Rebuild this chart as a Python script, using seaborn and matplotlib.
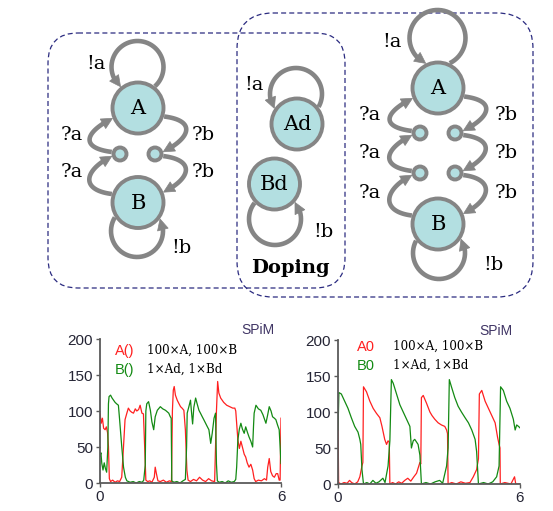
import numpy as np
import pandas as pd
import matplotlib
matplotlib.use("Agg")
import matplotlib.pyplot as plt
import seaborn as sns
from matplotlib.patches import Circle, FancyBboxPatch, Polygon

# ---------------- data ----------------
left_A = [(0.00,97),(0.04,83),(0.08,90),(0.12,76),(0.17,74),(0.21,78),(0.25,70),(0.28,51),(0.31,6),(0.35,2),
          (0.42,4),(0.50,1),(0.58,3),(0.65,2),(0.72,8),(0.78,51),(0.83,88),(0.89,97),(0.94,104),(1.00,100),
          (1.06,98),(1.11,97),(1.17,103),(1.22,100),(1.28,102),(1.33,108),(1.39,97),(1.44,96),(1.48,51),(1.52,4),
          (1.58,2),(1.65,3),(1.72,1),(1.80,8),(1.83,22),(1.87,13),(1.92,3),(2.00,2),(2.10,4),(2.20,1),
          (2.30,3),(2.37,2),(2.40,100),(2.43,129),(2.46,134),(2.50,122),(2.56,115),(2.62,110),(2.67,106),(2.72,104),
          (2.78,101),(2.83,74),(2.88,18),(2.92,4),(3.00,2),(3.10,5),(3.20,3),(3.30,8),(3.40,4),(3.50,2),
          (3.60,6),(3.70,3),(3.80,2),(3.86,100),(3.90,141),(3.94,125),(4.00,118),(4.10,112),(4.20,108),(4.30,106),
          (4.40,104),(4.47,104),(4.50,100),(4.53,83),(4.57,60),(4.62,48),(4.67,58),(4.72,50),(4.78,40),(4.83,36),
          (4.88,28),(4.94,22),(5.00,26),(5.06,18),(5.11,6),(5.16,2),(5.25,4),(5.35,3),(5.45,6),(5.52,4),
          (5.56,22),(5.61,34),(5.66,16),(5.72,10),(5.78,8),(5.84,13),(5.89,13),(5.94,4),(5.97,4),(6.00,90)]
left_B = [(0.00,37),(0.03,42),(0.06,27),(0.10,18),(0.14,28),(0.18,20),(0.22,15),(0.26,50),(0.28,110),(0.30,120),
          (0.35,122),(0.40,118),(0.45,115),(0.50,112),(0.55,110),(0.61,108),(0.65,88),(0.72,51),(0.78,22),(0.84,8),
          (0.89,3),(1.00,1),(1.10,2),(1.20,0),(1.30,2),(1.40,1),(1.45,4),(1.50,25),(1.52,100),(1.55,110),
          (1.61,113),(1.67,101),(1.72,85),(1.78,74),(1.83,92),(1.90,101),(2.00,106),(2.08,103),(2.17,101),(2.28,97),
          (2.33,92),(2.36,90),(2.38,3),(2.45,1),(2.55,2),(2.65,0),(2.75,3),(2.83,5),(2.87,50),(2.89,97),
          (2.94,105),(3.00,115),(3.03,100),(3.07,82),(3.11,105),(3.17,118),(3.22,110),(3.28,101),(3.33,97),(3.39,92),
          (3.44,88),(3.50,83),(3.56,78),(3.61,74),(3.67,55),(3.72,69),(3.78,90),(3.83,97),(3.86,27),(3.89,3),
          (3.95,1),(4.05,2),(4.15,0),(4.25,3),(4.35,1),(4.45,2),(4.50,5),(4.53,22),(4.57,60),(4.62,75),
          (4.67,83),(4.72,75),(4.78,69),(4.83,78),(4.89,70),(4.94,64),(5.00,58),(5.06,50),(5.09,80),(5.11,97),
          (5.17,108),(5.25,103),(5.33,101),(5.40,95),(5.50,83),(5.56,95),(5.61,106),(5.67,100),(5.72,92),(5.78,90),
          (5.83,88),(5.89,80),(5.94,74),(6.00,27)]
right_A = [(0.00,95),(0.02,2),(0.10,0),(0.20,2),(0.30,1),(0.38,5),(0.45,2),(0.55,0),(0.65,3),(0.72,10),
           (0.79,25),(0.82,30),(0.84,135),(0.94,128),(1.05,115),(1.16,105),(1.27,98),(1.38,92),(1.45,80),(1.54,62),
           (1.60,55),(1.65,60),(1.69,58),(1.71,0),(1.80,2),(1.90,0),(2.00,3),(2.10,1),(2.20,5),(2.30,8),
           (2.40,4),(2.50,10),(2.59,15),(2.70,30),(2.73,28),(2.75,120),(2.81,123),(2.92,112),(3.03,100),(3.10,95),
           (3.19,90),(3.30,85),(3.41,82),(3.52,80),(3.58,75),(3.61,70),(3.63,0),(3.75,2),(3.90,0),(4.05,3),
           (4.20,1),(4.35,2),(4.46,10),(4.57,20),(4.63,35),(4.66,125),(4.74,130),(4.85,115),(4.96,105),(5.07,95),
           (5.18,85),(5.26,65),(5.31,55),(5.34,50),(5.35,0),(5.50,2),(5.70,0),(5.82,10),(5.86,0),(6.00,0)]
right_B = [(0.00,75),(0.03,127),(0.11,125),(0.22,115),(0.33,105),(0.44,92),(0.55,80),(0.66,72),(0.72,62),(0.75,55),
           (0.79,20),(0.84,0),(0.95,2),(1.05,0),(1.15,5),(1.25,1),(1.35,3),(1.48,8),(1.55,2),(1.65,25),
           (1.71,60),(1.76,145),(1.82,140),(1.93,125),(2.04,110),(2.15,100),(2.26,90),(2.37,80),(2.42,50),(2.48,60),
           (2.53,62),(2.64,55),(2.70,40),(2.75,0),(2.90,2),(3.05,0),(3.20,3),(3.35,5),(3.45,1),(3.58,25),
           (3.63,50),(3.67,145),(3.74,135),(3.85,120),(3.96,108),(4.07,100),(4.19,92),(4.30,85),(4.41,75),(4.52,62),
           (4.57,45),(4.63,0),(4.80,2),(4.95,0),(5.10,3),(5.23,10),(5.31,25),(5.36,135),(5.45,130),(5.56,115),
           (5.67,105),(5.78,90),(5.84,75),(5.89,82),(5.95,80),(6.00,78)]

y_ticks = [0, 50, 100, 150, 200]
x_ticks = [0, 6]
legend_left = ["A()", "B()"]
legend_right = ["A0", "B0"]
legend_text = ["100\u00d7A, 100\u00d7B", "1\u00d7Ad, 1\u00d7Bd"]

# ---------------- style ----------------
GRAY = "#858585"
FILL = "#b3dfe1"
NAVY = "#2b2b80"
RED = "#ff2020"
GREEN = "#138a13"
SERIF = ["DejaVu Serif"]
SANS = ["Liberation Sans", "DejaVu Sans"]

fig = plt.figure(figsize=(5.53, 5.11), dpi=100)
ax0 = fig.add_axes([0, 0, 1, 1])
ax0.set_xlim(0, 553)
ax0.set_ylim(511, 0)
ax0.axis("off")

LW = 3.3


def pol(c, r, deg):
    a = np.deg2rad(deg)
    return np.array([c[0] + r * np.cos(a), c[1] + r * np.sin(a)])


def bez(p0, p1, p2, p3, n=80):
    t = np.linspace(0, 1, n)[:, None]
    p0, p1, p2, p3 = map(np.asarray, (p0, p1, p2, p3))
    return (1 - t) ** 3 * p0 + 3 * (1 - t) ** 2 * t * p1 + 3 * (1 - t) * t ** 2 * p2 + t ** 3 * p3


def arrow_path(pts, L=11.0, W=11.0):
    pts = np.asarray(pts, float)
    tip = pts[-1]
    d = np.sqrt(((pts - tip) ** 2).sum(1))
    idx = np.where(d >= L)[0][-1]
    u = tip - pts[idx]
    u = u / np.linalg.norm(u)
    base = tip - u * L
    nrm = np.array([-u[1], u[0]])
    line = np.vstack([pts[:idx + 1], base + u * 2])
    ax0.plot(line[:, 0], line[:, 1], color=GRAY, lw=LW, solid_capstyle="butt", zorder=2)
    tri = Polygon([tip, base + nrm * W / 2, base - nrm * W / 2], closed=True,
                  fc=GRAY, ec=GRAY, lw=0.5, zorder=4)
    ax0.add_patch(tri)


def loop(C, Rn, Lc, r, top=True, n=160):
    C = np.asarray(C, float); Lc = np.asarray(Lc, float)
    d = np.linalg.norm(C - Lc)
    a = (d ** 2 + r ** 2 - Rn ** 2) / (2 * d)
    h = np.sqrt(max(r ** 2 - a ** 2, 0))
    e = (C - Lc) / d
    perp = np.array([-e[1], e[0]])
    P = Lc + a * e
    i1, i2 = P + h * perp, P - h * perp
    right, left = (i1, i2) if i1[0] > i2[0] else (i2, i1)
    s, f = (right, left) if top else (left, right)
    ps = np.degrees(np.arctan2(s[1] - Lc[1], s[0] - Lc[0]))
    pe = np.degrees(np.arctan2(f[1] - Lc[1], f[0] - Lc[0]))
    while pe >= ps:
        pe -= 360
    if ps - pe < 180:
        pe -= 360
    ang = np.radians(np.linspace(ps, pe, n))
    pts = np.column_stack([Lc[0] + r * np.cos(ang), Lc[1] + r * np.sin(ang)])
    arrow_path(pts)


def node(c, label=None, big=True):
    r = 25.5 if big else 6.5
    ax0.add_patch(Circle(c, r, fc=FILL, ec=GRAY, lw=2.8, zorder=3))
    if label:
        ax0.text(c[0], c[1] + 1, label, ha="center", va="center", fontsize=15,
                 family=SERIF, color="black", zorder=5)


RB, RS = 27.5, 8.5


def edge_up(c_from, r_from, c_to, r_to, ang_from, ang_to):
    p0 = pol(c_from, r_from, ang_from)
    p3 = pol(c_to, r_to, ang_to)
    arrow_path(bez(p0, p0 + np.array([-32, -4]), p3 + np.array([-28, 14]), p3))


def edge_down(c_from, r_from, c_to, r_to, ang_from, ang_to):
    p0 = pol(c_from, r_from, ang_from)
    p3 = pol(c_to, r_to, ang_to)
    arrow_path(bez(p0, p0 + np.array([32, 4]), p3 + np.array([28, -14]), p3))


def lab(x, y, s, size=14, **kw):
    ax0.text(x, y, s, ha="center", va="center", fontsize=size, family=SERIF, color="black", **kw)


# dashed boxes
ax0.add_patch(FancyBboxPatch((48, 33), 297, 255, boxstyle="round,pad=0,rounding_size=30",
                             fill=False, ec=NAVY, lw=0.9, ls=(0, (4, 2.5)), zorder=1))
ax0.add_patch(FancyBboxPatch((237, 13), 296, 284, boxstyle="round,pad=0,rounding_size=36",
                             fill=False, ec=NAVY, lw=0.9, ls=(0, (4, 2.5)), zorder=1))

# ---- left machine ----
A1, B1 = (138, 108), (138, 202.5)
sl, sr = (120, 154), (155, 154)
loop(A1, RB, (137.5, 67), 26, top=True)
loop(B1, RB, (137, 231), 26, top=False)
edge_up(sl, RS, A1, RB, 194, 158)
edge_up(B1, RB, sl, RS, 198, 165)
edge_down(A1, RB, sr, RS, 18, -15)
edge_down(sr, RS, B1, RB, 14, -22)
node(A1, "A"); node(B1, "B"); node(sl, big=False); node(sr, big=False)
lab(96, 64, "!a"); lab(72, 135, "?a"); lab(72, 172, "?a")
lab(203, 135, "?b"); lab(203, 172, "?b"); lab(181, 248, "!b")

# ---- doping ----
Ad, Bd = (297, 124), (274.5, 184)
loop(Ad, RB, (296, 94), 26, top=True)
loop(Bd, RB, (275, 219), 26, top=False)
node(Ad, "Ad"); node(Bd, "Bd")
lab(254, 85, "!a"); lab(323, 232, "!b")
lab(290, 268, "Doping", size=14, weight="bold")

# ---- right machine ----
A2, B2 = (438, 88), (438, 224)
l1, r1, l2, r2 = (420, 133), (455, 133), (420, 173), (455, 173)
loop(A2, RB, (437.5, 38), 28, top=True)
loop(B2, RB, (439, 253), 26, top=False)
edge_up(l1, RS, A2, RB, 194, 158)
edge_up(l2, RS, l1, RS, 194, 165)
edge_up(B2, RB, l2, RS, 198, 165)
edge_down(A2, RB, r1, RS, 18, -15)
edge_down(r1, RS, r2, RS, 14, -15)
edge_down(r2, RS, B2, RB, 14, -22)
for c, s in [(A2, "A"), (B2, "B")]:
    node(c, s)
for c in (l1, r1, l2, r2):
    node(c, big=False)
lab(392, 42, "!a"); lab(494, 265, "!b")
for yy in (115, 153, 193):
    lab(370, yy, "?a"); lab(506, yy, "?b")


# ---------------- time series ----------------
def chart(rect, A, B, names, leg_x, leg_y, txt_x, spim_x, spim_y):
    ax = fig.add_axes(rect)
    ax.patch.set_alpha(0)
    df = pd.concat([
        pd.DataFrame({"t": [p[0] for p in A], "v": [p[1] for p in A], "s": "A"}),
        pd.DataFrame({"t": [p[0] for p in B], "v": [p[1] for p in B], "s": "B"}),
    ])
    sns.lineplot(data=df, x="t", y="v", hue="s", palette={"A": RED, "B": GREEN},
                 estimator=None, sort=False, legend=False, lw=0.9, ax=ax)
    ax.set_xlim(0, 6)
    ax.set_ylim(0, 200)
    ax.set_xticks(x_ticks)
    ax.set_yticks(y_ticks)
    ax.set_xlabel("")
    ax.set_ylabel("")
    for sp in ("top", "right"):
        ax.spines[sp].set_visible(False)
    for sp in ("left", "bottom"):
        ax.spines[sp].set_color("#5a5a5a")
        ax.spines[sp].set_linewidth(1.3)
    ax.tick_params(length=3, width=1, color="#5a5a5a", labelsize=11, labelcolor="#252535", pad=2)
    for t in ax.get_xticklabels() + ax.get_yticklabels():
        t.set_family(SANS)
    for i, (nm, col) in enumerate(zip(names, (RED, GREEN))):
        ax0.text(leg_x, leg_y + i * 19, nm, color=col, fontsize=10.5, family=SANS,
                 ha="left", va="center")
        ax0.text(txt_x, leg_y - 1 + i * 19, legend_text[i], color="black", fontsize=8.6,
                 family=SERIF, ha="left", va="center")
    ax0.text(spim_x, spim_y, "SPiM", color="#403565", fontsize=10, family=SANS,
             ha="right", va="center")


chart([100 / 553, 28 / 511, 181 / 553, 144 / 511], left_A, left_B, legend_left,
      115, 351, 147, 274, 330)
chart([338 / 553, 27 / 511, 182 / 553, 144 / 511], right_A, right_B, legend_right,
      357, 347, 393, 512, 331)

fig.savefig("out.png", dpi=100)
